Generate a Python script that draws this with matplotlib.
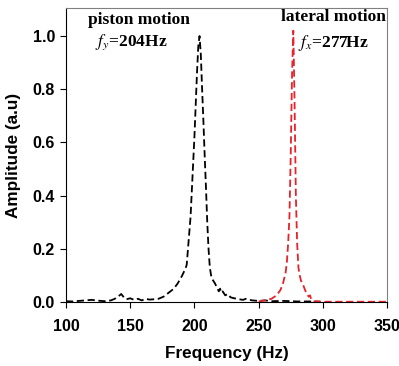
import matplotlib
matplotlib.use("Agg")
import matplotlib.pyplot as plt

# Data
piston_freq = [100, 105, 110, 115, 120, 125, 130, 135, 138, 141, 143, 145, 147, 150, 153, 156, 159, 162,
               165, 168, 172, 176, 180, 184, 187, 190, 193, 194, 195, 196, 197, 198, 199, 200, 201, 202,
               203, 204, 205, 206, 207, 208, 209, 210, 211, 212, 213, 214, 216, 218, 219, 220, 221, 222,
               224, 226, 228, 230, 235, 238, 240, 245, 250, 255, 260, 270, 280, 290, 298]
piston_amp = [0.003, 0.002, 0.004, 0.006, 0.008, 0.005, 0.003, 0.006, 0.012, 0.022, 0.03, 0.018, 0.01,
              0.014, 0.008, 0.012, 0.006, 0.012, 0.009, 0.01, 0.012, 0.02, 0.035, 0.05, 0.07, 0.095,
              0.125, 0.14, 0.2, 0.26, 0.32, 0.42, 0.52, 0.62, 0.74, 0.86, 0.96, 1.0, 0.93, 0.8, 0.68,
              0.55, 0.43, 0.3, 0.2, 0.13, 0.1, 0.085, 0.07, 0.05, 0.04, 0.05, 0.035, 0.04, 0.025, 0.03,
              0.018, 0.015, 0.01, 0.008, 0.012, 0.006, 0.004, 0.006, 0.003, 0.004, 0.002, 0.002, 0.001]

lateral_freq = [250, 255, 260, 264, 267, 269, 271, 272, 273, 274, 275, 276, 277, 278, 279, 280, 281, 282,
                283, 285, 287, 289, 290, 291, 293, 300, 320, 350]
lateral_amp = [0.002, 0.006, 0.012, 0.025, 0.045, 0.07, 0.11, 0.15, 0.22, 0.32, 0.55, 0.85, 1.02, 0.75,
               0.4, 0.22, 0.13, 0.1, 0.08, 0.06, 0.035, 0.02, 0.025, 0.01, 0.003, 0.001, 0.001, 0.001]

x_ticks = [100, 150, 200, 250, 300, 350]
y_ticks = [0.0, 0.2, 0.4, 0.6, 0.8, 1.0]

fig = plt.figure(figsize=(3.99, 3.66), dpi=100)
ax = fig.add_axes([0.1654, 0.1749, 0.8046, 0.803])

dash = (0, (4.0, 2.0))
ax.plot(piston_freq, piston_amp, color='black', lw=1.3, linestyle=dash)
ax.plot(lateral_freq, lateral_amp, color='#e4232a', lw=1.3, linestyle=dash)

ax.set_xlim(100, 350)
ax.set_ylim(0, 1.105)
ax.set_xticks(x_ticks)
ax.set_yticks(y_ticks)
ax.set_xticklabels([str(t) for t in x_ticks])
ax.set_yticklabels([f"{t:.1f}" for t in y_ticks])

sans = 'Liberation Sans'
for lab in ax.get_xticklabels() + ax.get_yticklabels():
    lab.set_fontfamily(sans)
    lab.set_fontweight('bold')
    lab.set_fontsize(11.5)

ax.tick_params(direction='out', length=4, width=0.8, colors='black')
ax.tick_params(axis='x', pad=8)
ax.tick_params(axis='y', pad=4)
for s in ['top', 'right']:
    ax.spines[s].set_color('#808080')
for s in ['left', 'bottom']:
    ax.spines[s].set_color('black')

ax.set_xlabel('Frequency (Hz)', fontfamily=sans, fontweight='bold', fontsize=12.3, labelpad=9)
ax.set_ylabel('Amplitude (a.u)', fontfamily=sans, fontweight='bold', fontsize=12.3, labelpad=8)

serif = 'Liberation Serif'
ax.text(157, 1.06, 'piston motion', fontfamily=serif, fontweight='bold', fontsize=12.5,
        ha='center', va='center')
ax.text(151, 0.975, r'$\mathit{f}_{\mathit{y}}$=204Hz', fontfamily=serif, fontweight='bold',
        fontsize=12.5, ha='center', va='center', math_fontfamily='stix')
ax.text(349, 1.07, 'lateral motion', fontfamily=serif, fontweight='bold', fontsize=12.5,
        ha='right', va='center')
ax.text(280.5, 0.975, r'$\mathit{f}_{\mathit{x}}$=277Hz', fontfamily=serif, fontweight='bold',
        fontsize=12.5, ha='left', va='center', math_fontfamily='stix')

fig.savefig('out.png', dpi=100)
